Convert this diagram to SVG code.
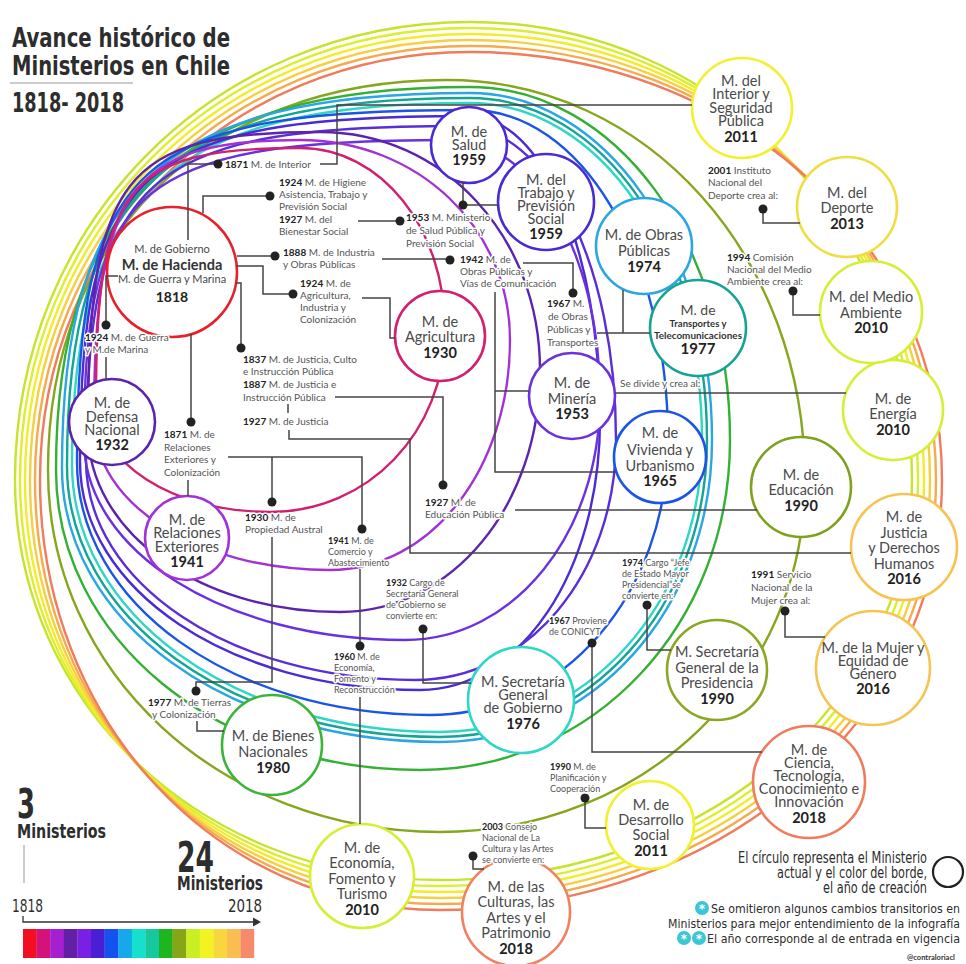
<svg xmlns="http://www.w3.org/2000/svg" width="966" height="964" viewBox="0 0 966 964">
<style>
.loop{fill:none;stroke-width:2.4}
.node{fill:#fff;stroke-width:2.6}
.conn{fill:none;stroke:#444;stroke-width:1.5}
.dot{fill:#222}
.nt{font-family:Lato,"Noto Sans",sans-serif;font-size:14.5px;fill:#4a4a4a;text-anchor:middle}
.yr{font-weight:bold;fill:#222}
.lb{font-family:Lato,"Noto Sans",sans-serif;font-size:10px;fill:#555;paint-order:stroke;stroke:#fff;stroke-width:3px;stroke-linejoin:round}
.sm{font-size:9px}
.b{font-weight:bold;fill:#222}
.cd{font-family:"DejaVu Sans Condensed","DejaVu Sans",sans-serif;fill:#2d2d2d}
</style>
<rect width="966" height="964" fill="#fff"/>

<g id="loops">
<path class="loop" stroke="#c6e42c" d="M15,480 C15,223.5 215.2,22 470,22 C717.5,22 912,223.5 912,480 C912,704 704.3,880 440,880 C202,880 15,704 15,480Z"/>
<path class="loop" stroke="#dcee2e" d="M20,480 C20,226.9 218,28 470,28 C720.9,28 918,226.9 918,480 C918,707.4 707.7,886 440,886 C204.8,886 20,707.4 20,480Z"/>
<path class="loop" stroke="#f2ec2a" d="M25,480 C25,230.2 220.8,34 470,34 C724.2,34 924,230.2 924,480 C924,710.7 711,892 440,892 C207.6,892 25,710.7 25,480Z"/>
<path class="loop" stroke="#f6d040" d="M30,480 C30,233.6 223.6,40 470,40 C727.6,40 930,233.6 930,480 C930,714.1 714.4,898 440,898 C210.4,898 30,714.1 30,480Z"/>
<path class="loop" stroke="#f6aa4e" d="M35,480 C35,237 226.4,46 470,46 C731,46 936,237 936,480 C936,717.4 717.8,904 440,904 C213.2,904 35,717.4 35,480Z"/>
<path class="loop" stroke="#f07c5c" d="M40,480 C40,240.3 229.2,52 470,52 C734.3,52 942,240.3 942,480 C942,720.8 721.1,910 440,910 C216,910 40,720.8 40,480Z"/>
<path class="loop" stroke="#86a61e" d="M48,470 C48,236 207.6,80 447,80 C647.5,80 805,256 805,480 C805,677.1 644.4,832 440,832 C220.5,832 48,672.7 48,470Z"/>
<path class="loop" stroke="#34b034" d="M56,470 C56,201.9 180.2,87 470,87 C615.6,87 730,242.3 730,440 C730,624.8 593.6,770 420,770 C216.2,770 56,638 56,470Z"/>
<path class="loop" stroke="#2aa6e2" d="M62,468 C62,186.75 164,93 470,93 C605.5,93 712,245.7 712,440 C712,609.1 592.3,742 440,742 C228.3,742 62,621.4 62,468Z"/>
<path class="loop" stroke="#13a595" d="M67,466 C67,190 167.75,98 470,98 C602.7,98 707,248.5 707,440 C707,606.3 589.5,737 440,737 C231.1,737 67,617.8 67,466Z"/>
<path class="loop" stroke="#2fd6c4" d="M72,464 C72,193.25 171.5,103 470,103 C599.9,103 702,251.3 702,440 C702,603.5 586.7,732 440,732 C233.9,732 72,614.1 72,464Z"/>
<path class="loop" stroke="#1b55e6" d="M77,462 C77,162.8 136,110 470,110 C580.9,110 668,255.2 668,440 C668,594 563.3,715 430,715 C232.3,715 77,603.7 77,462Z"/>
<path class="loop" stroke="#4b2bd3" d="M80,462 C80,167.9 138.3,116 469,116 C542.4,116 600,249.8 600,420 C600,571.2 520.8,690 420,690 C229.6,690 80,589.7 80,462Z"/>
<path class="loop" stroke="#5a2ed6" d="M86,460 C86,176.1 142.1,126 460,126 C547.4,126 616,264.2 616,440 C616,574.4 527.6,680 415,680 C230.8,680 86,583.2 86,460Z"/>
<path class="loop" stroke="#6b30e0" d="M84,440 C84,185 139,140 450,140 C534,140 600,253.5 600,398 C600,533.5 514.2,640 405,640 C225.2,640 84,552 84,440Z"/>
<path class="loop" stroke="#5c24ac" d="M88,430 C88,176.7 122.8,132 320,132 C443.2,132 540,236.7 540,370 C540,505.5 452,612 340,612 C198.9,612 88,531.9 88,430Z"/>
<path class="loop" stroke="#a232d6" d="M94,420 C94,190.4 131.1,140 300,140 C417.6,140 510,228 510,340 C510,468.8 430.8,570 330,570 C197.8,570 94,504 94,420Z"/>
<path class="loop" stroke="#d0206e" d="M96,400 C96,185.8 126.6,148 300,148 C381.2,148 445,228.1 445,330 C445,431.9 368,512 270,512 C172.6,512 96,462.7 96,400Z"/>
</g>

<g id="n-hacienda"><circle class="node" cx="172" cy="272" r="65" stroke="#e8202a"/>
<text class="nt"><tspan x="172" y="253" font-size="11">M. de Gobierno</tspan><tspan x="172" y="270" font-weight="bold" fill="#333">M. de Hacienda</tspan><tspan x="172" y="283" font-size="11">M. de Guerra y Marina</tspan><tspan x="172" y="302" class="yr" font-size="14">1818</tspan></text></g>
<g id="n-salud"><circle class="node" cx="469" cy="145" r="38" stroke="#4a2ad2"/>
<text class="nt" font-size="14"><tspan x="469" y="137">M. de</tspan><tspan x="469" y="150">Salud</tspan><tspan x="469" y="165" class="yr">1959</tspan></text></g>
<g id="n-trabajo"><circle class="node" cx="546" cy="202" r="48" stroke="#4a2ad2"/>
<text class="nt" font-size="14"><tspan x="546" y="185">M. del</tspan><tspan x="546" y="198">Trabajo y</tspan><tspan x="546" y="211">Previsión</tspan><tspan x="546" y="224">Social</tspan><tspan x="546" y="239" class="yr">1959</tspan></text></g>
<g id="n-obras"><circle class="node" cx="644" cy="246" r="48" stroke="#2aa6e2"/>
<text class="nt"><tspan x="644" y="240">M. de Obras</tspan><tspan x="644" y="256">Públicas</tspan><tspan x="644" y="272" class="yr">1974</tspan></text></g>
<g id="n-transportes"><circle class="node" cx="698" cy="328" r="48" stroke="#14a394"/>
<text class="nt"><tspan x="698" y="315" font-size="14">M. de</tspan><tspan x="698" y="327" font-size="9.5" font-weight="bold" fill="#333">Transportes y</tspan><tspan x="698" y="339" font-size="9.5" font-weight="bold" fill="#333" textLength="88" lengthAdjust="spacingAndGlyphs">Telecomunicaciones</tspan><tspan x="698" y="354" class="yr" font-size="15">1977</tspan></text></g>
<g id="n-agricultura"><circle class="node" cx="440" cy="336" r="45" stroke="#d0206e"/>
<text class="nt" font-size="15"><tspan x="440" y="327">M. de</tspan><tspan x="440" y="342">Agricultura</tspan><tspan x="440" y="358" class="yr">1930</tspan></text></g>
<g id="n-mineria"><circle class="node" cx="572" cy="396" r="43" stroke="#6b30e0"/>
<text class="nt" font-size="15"><tspan x="572" y="388">M. de</tspan><tspan x="572" y="404">Minería</tspan><tspan x="572" y="419" class="yr">1953</tspan></text></g>
<g id="n-vivienda"><circle class="node" cx="660" cy="457" r="46" stroke="#1b55e6"/>
<text class="nt"><tspan x="660" y="438">M. de</tspan><tspan x="660" y="455">Vivienda y</tspan><tspan x="660" y="471">Urbanismo</tspan><tspan x="660" y="486" class="yr">1965</tspan></text></g>
<g id="n-defensa"><circle class="node" cx="112" cy="422" r="43" stroke="#5c24ac"/>
<text class="nt"><tspan x="112" y="408">M. de</tspan><tspan x="112" y="422">Defensa</tspan><tspan x="112" y="435">Nacional</tspan><tspan x="112" y="450" class="yr">1932</tspan></text></g>
<g id="n-relext"><circle class="node" cx="187" cy="538" r="42" stroke="#a232d6"/>
<text class="nt"><tspan x="187" y="525">M. de</tspan><tspan x="187" y="538">Relaciones</tspan><tspan x="187" y="552">Exteriores</tspan><tspan x="187" y="567" class="yr">1941</tspan></text></g>
<g id="n-educacion"><circle class="node" cx="801" cy="487" r="50" stroke="#7ea21e"/>
<text class="nt"><tspan x="801" y="480">M. de</tspan><tspan x="801" y="495">Educación</tspan><tspan x="801" y="511" class="yr">1990</tspan></text></g>
<g id="n-energia"><circle class="node" cx="893" cy="410" r="50" stroke="#d6ee34"/>
<text class="nt"><tspan x="893" y="404">M. de</tspan><tspan x="893" y="419">Energía</tspan><tspan x="893" y="435" class="yr">2010</tspan></text></g>
<g id="n-justicia"><circle class="node" cx="904" cy="547" r="53" stroke="#f6c454"/>
<text class="nt"><tspan x="904" y="522">M. de</tspan><tspan x="904" y="538">Justicia</tspan><tspan x="904" y="553">y Derechos</tspan><tspan x="904" y="569">Humanos</tspan><tspan x="904" y="584" class="yr">2016</tspan></text></g>
<g id="n-mujer"><circle class="node" cx="873" cy="668" r="57" stroke="#f6c454"/>
<text class="nt"><tspan x="873" y="653">M. de la Mujer y</tspan><tspan x="873" y="666">Equidad de</tspan><tspan x="873" y="679">Género</tspan><tspan x="873" y="694" class="yr">2016</tspan></text></g>
<g id="n-presidencia"><circle class="node" cx="717" cy="670" r="50" stroke="#8aa824"/>
<text class="nt" font-size="15"><tspan x="717" y="657">M. Secretaría</tspan><tspan x="717" y="673">General de la</tspan><tspan x="717" y="688">Presidencia</tspan><tspan x="717" y="704" class="yr">1990</tspan></text></g>
<g id="n-secgob"><circle class="node" cx="521" cy="700" r="53" stroke="#30d6c6"/>
<text class="nt" font-size="15"><tspan x="523" y="687">M. Secretaría</tspan><tspan x="523" y="700">General</tspan><tspan x="523" y="713">de Gobierno</tspan><tspan x="523" y="729" class="yr">1976</tspan></text></g>
<g id="n-bienes"><circle class="node" cx="272" cy="745" r="50" stroke="#3cb43a"/>
<text class="nt" font-size="15"><tspan x="273" y="741">M. de Bienes</tspan><tspan x="273" y="757">Nacionales</tspan><tspan x="273" y="773" class="yr">1980</tspan></text></g>
<g id="n-economia"><circle class="node" cx="362" cy="876" r="52" stroke="#d6ee34"/>
<text class="nt"><tspan x="362" y="853">M. de</tspan><tspan x="362" y="868">Economía,</tspan><tspan x="362" y="884">Fomento y</tspan><tspan x="362" y="899">Turismo</tspan><tspan x="362" y="915" class="yr">2010</tspan></text></g>
<g id="n-culturas"><circle class="node" cx="516" cy="912" r="54" stroke="#f08262"/>
<text class="nt"><tspan x="516" y="892">M. de las</tspan><tspan x="516" y="907">Culturas, las</tspan><tspan x="516" y="923">Artes y el</tspan><tspan x="516" y="938">Patrimonio</tspan><tspan x="516" y="954" class="yr">2018</tspan></text></g>
<g id="n-desarrollo"><circle class="node" cx="650" cy="825" r="44" stroke="#f2f032"/>
<text class="nt"><tspan x="651" y="810">M. de</tspan><tspan x="651" y="825">Desarrollo</tspan><tspan x="651" y="840">Social</tspan><tspan x="651" y="856" class="yr">2011</tspan></text></g>
<g id="n-ciencia"><circle class="node" cx="809" cy="782" r="56" stroke="#f07c5e"/>
<text class="nt" font-size="13"><tspan x="809" y="755">M. de</tspan><tspan x="809" y="768">Ciencia,</tspan><tspan x="809" y="781">Tecnología,</tspan><tspan x="809" y="794">Conocimiento e</tspan><tspan x="809" y="807">Innovación</tspan><tspan x="809" y="823" class="yr">2018</tspan></text></g>
<g id="n-medioambiente"><circle class="node" cx="871" cy="312" r="51" stroke="#d6ee34"/>
<text class="nt"><tspan x="871" y="302">M. del Medio</tspan><tspan x="871" y="318">Ambiente</tspan><tspan x="871" y="333" class="yr">2010</tspan></text></g>
<g id="n-deporte"><circle class="node" cx="847" cy="207" r="50" stroke="#f0de40"/>
<text class="nt"><tspan x="847" y="198">M. del</tspan><tspan x="847" y="213">Deporte</tspan><tspan x="847" y="229" class="yr">2013</tspan></text></g>
<g id="n-interior"><circle class="node" cx="742" cy="108" r="50" stroke="#f2f032"/>
<text class="nt" font-size="14"><tspan x="741" y="86">M. del</tspan><tspan x="741" y="99">Interior y</tspan><tspan x="741" y="113">Seguridad</tspan><tspan x="741" y="126">Pública</tspan><tspan x="741" y="142" class="yr">2011</tspan></text></g>

<g id="connectors">
<path class="conn" d="M188,240 V164 H214 M320,164 H337 V105 H692"/>
<path class="conn" d="M203,213 V196 H266"/>
<path class="conn" d="M358,221 H396"/>
<path class="conn" d="M463,182 V205 H498"/>
<path class="conn" d="M237,256 H271"/>
<path class="conn" d="M382,259 H446"/>
<path class="conn" d="M523,263 H573 V289"/>
<path class="conn" d="M597,333 H650 M623,333 V290"/>
<path class="conn" d="M495,292 V472 H616 M495,391 H529"/>
<path class="conn" d="M615,393 H846"/>
<path class="conn" d="M236,266 H263 V294 H289"/>
<path class="conn" d="M362,298 H390 V338 H395"/>
<path class="conn" d="M236,283 H241 V344"/>
<path class="conn" d="M335,397 H443 V481"/>
<path class="conn" d="M515,510 H757"/>
<path class="conn" d="M289,430 V439 H410 V553 H851"/>
<path class="conn" d="M288,404 V413"/>
<path class="conn" d="M118,276 H106 V321 M106,357 V380"/>
<path class="conn" d="M191,334 V418"/>
<path class="conn" d="M188,480 V496"/>
<path class="conn" d="M228,457 H362 V525 M272,457 V498"/>
<path class="conn" d="M272,537 V682 H196 V687"/>
<path class="conn" d="M197,721 V731 H224"/>
<path class="conn" d="M360,569 V642 M360,697 V824"/>
<path class="conn" d="M423,633 V683 H471"/>
<path class="conn" d="M647,609 V650 H671"/>
<path class="conn" d="M592,647 V752 H762"/>
<path class="conn" d="M585,802 V828 H606"/>
<path class="conn" d="M473,860 V869 H484"/>
<path class="conn" d="M763,213 V223 H800"/>
<path class="conn" d="M793,295 V315 H820"/>
<path class="conn" d="M785,615 V637 H825"/>
<g class="dot">
<circle cx="218" cy="164" r="4.5"/><circle cx="270" cy="196" r="4.5"/><circle cx="400" cy="221" r="4.5"/><circle cx="463" cy="205" r="4.5"/>
<circle cx="275" cy="256" r="4.5"/><circle cx="450" cy="260" r="4.5"/><circle cx="573" cy="293" r="4.5"/><circle cx="293" cy="294" r="4.5"/>
<circle cx="241" cy="348" r="4.5"/><circle cx="443" cy="485" r="4.5"/><circle cx="106" cy="325" r="4.5"/><circle cx="191" cy="422" r="4.5"/>
<circle cx="272" cy="502" r="4.5"/><circle cx="362" cy="529" r="4.5"/><circle cx="196" cy="691" r="4.5"/><circle cx="360" cy="646" r="4.5"/>
<circle cx="423" cy="629" r="4.5"/><circle cx="647" cy="605" r="4.5"/><circle cx="592" cy="643" r="4.5"/><circle cx="585" cy="798" r="4.5"/>
<circle cx="473" cy="856" r="4.5"/><circle cx="763" cy="209" r="4.5"/><circle cx="793" cy="291" r="4.5"/><circle cx="785" cy="611" r="4.5"/>
</g>
</g>

<g id="labels">
<text class="lb" x="225" y="168"><tspan class="b">1871</tspan> M. de Interior</text>
<text class="lb"><tspan x="279" y="186"><tspan class="b">1924</tspan> M. de Higiene</tspan><tspan x="279" y="198">Asistencia, Trabajo y</tspan><tspan x="279" y="210">Previsión Social</tspan><tspan x="279" y="223"><tspan class="b">1927</tspan> M. del</tspan><tspan x="279" y="235">Bienestar Social</tspan></text>
<text class="lb"><tspan x="406" y="221"><tspan class="b">1953</tspan> M. Ministerio</tspan><tspan x="406" y="234">de Salud Pública y</tspan><tspan x="406" y="247">Previsión Social</tspan></text>
<text class="lb"><tspan x="283" y="256"><tspan class="b">1888</tspan> M. de Industria</tspan><tspan x="283" y="268">y Obras Públicas</tspan></text>
<text class="lb"><tspan x="460" y="263"><tspan class="b">1942</tspan> M. de</tspan><tspan x="460" y="275">Obras Públicas y</tspan><tspan x="460" y="287">Vías de Comunicación</tspan></text>
<text class="lb"><tspan x="547" y="307"><tspan class="b">1967</tspan> M.</tspan><tspan x="548" y="320">de Obras</tspan><tspan x="547" y="333">Públicas y</tspan><tspan x="547" y="346">Transportes</tspan></text>
<text class="lb"><tspan x="300" y="287"><tspan class="b">1924</tspan>  M. de</tspan><tspan x="300" y="299">Agricultura,</tspan><tspan x="300" y="311">Industria  y</tspan><tspan x="300" y="323">Colonización</tspan></text>
<text class="lb"><tspan x="243" y="363"><tspan class="b">1837</tspan> M. de Justicia, Culto</tspan><tspan x="243" y="375">e Instrucción Pública</tspan><tspan x="243" y="388"><tspan class="b">1887</tspan> M. de Justicia e</tspan><tspan x="243" y="401">Instrucción Pública</tspan><tspan x="243" y="425"><tspan class="b">1927</tspan> M. de Justicia</tspan></text>
<text class="lb"><tspan x="85" y="341"><tspan class="b">1924</tspan> M. de Guerra</tspan><tspan x="85" y="353">y M.de Marina</tspan></text>
<text class="lb"><tspan x="164" y="438"><tspan class="b">1871</tspan> M. de</tspan><tspan x="164" y="451">Relaciones</tspan><tspan x="164" y="463">Exteriores y</tspan><tspan x="164" y="476">Colonización</tspan></text>
<text class="lb"><tspan x="245" y="521"><tspan class="b">1930</tspan> M. de</tspan><tspan x="245" y="533">Propiedad Austral</tspan></text>
<text class="lb sm"><tspan x="328" y="544"><tspan class="b">1941</tspan>  M. de</tspan><tspan x="328" y="555">Comercio y</tspan><tspan x="328" y="566">Abastecimiento</tspan></text>
<text class="lb sm"><tspan x="334" y="660"><tspan class="b">1960</tspan>  M. de</tspan><tspan x="334" y="671">Economía,</tspan><tspan x="334" y="682">Fomento y</tspan><tspan x="334" y="693">Reconstrucción</tspan></text>
<text class="lb sm"><tspan x="386" y="586"><tspan class="b">1932</tspan> Cargo de</tspan><tspan x="386" y="597">Secretaría General</tspan><tspan x="386" y="608">de Gobierno se</tspan><tspan x="386" y="619">convierte en:</tspan></text>
<text class="lb sm"><tspan x="622" y="566"><tspan class="b">1974</tspan> Cargo “Jefe</tspan><tspan x="622" y="577">de Estado Mayor</tspan><tspan x="622" y="588">Presidencial”se</tspan><tspan x="622" y="599">convierte en:</tspan></text>
<text class="lb sm"><tspan x="549" y="624"><tspan class="b">1967</tspan> Proviene</tspan><tspan x="549" y="635">de CONICYT</tspan></text>
<text class="lb sm"><tspan x="550" y="770"><tspan class="b">1990</tspan> M. de</tspan><tspan x="550" y="781">Planificación y</tspan><tspan x="550" y="792">Cooperación</tspan></text>
<text class="lb sm"><tspan x="482" y="830"><tspan class="b">2003</tspan> Consejo</tspan><tspan x="482" y="841">Nacional de La</tspan><tspan x="482" y="852">Cultura y las Artes</tspan><tspan x="482" y="863">se convierte en:</tspan></text>
<text class="lb"><tspan x="708" y="174"><tspan class="b">2001</tspan> Instituto</tspan><tspan x="708" y="186">Nacional del</tspan><tspan x="708" y="199">Deporte crea al:</tspan></text>
<text class="lb"><tspan x="727" y="261"><tspan class="b">1994</tspan> Comisión</tspan><tspan x="727" y="273">Nacional del Medio</tspan><tspan x="727" y="285">Ambiente crea al:</tspan></text>
<text class="lb"><tspan x="751" y="578"><tspan class="b">1991</tspan> Servicio</tspan><tspan x="751" y="591">Nacional de la</tspan><tspan x="751" y="604">Mujer crea al:</tspan></text>
<text class="lb" x="620" y="387">Se divide y crea al:</text>
<text class="lb"><tspan x="425" y="506"><tspan class="b">1927</tspan> M. de</tspan><tspan x="425" y="518">Educación Pública</tspan></text>
<text class="lb"><tspan x="148" y="706"><tspan class="b">1977</tspan> M. de Tierras</tspan><tspan x="152" y="718">y Colonización</tspan></text>
</g>

<g id="title">
<text class="cd" x="12" y="47" font-size="27" font-weight="bold" textLength="218" lengthAdjust="spacingAndGlyphs">Avance histórico de</text>
<text class="cd" x="12" y="75" font-size="27" font-weight="bold" textLength="218" lengthAdjust="spacingAndGlyphs">Ministerios en Chile</text>
<line x1="10" y1="83" x2="133" y2="83" stroke="#bbb" stroke-width="1.5"/>
<text class="cd" x="12" y="112" font-size="27" font-weight="bold" textLength="112" lengthAdjust="spacingAndGlyphs">1818- 2018</text>
</g>

<g id="timeline">
<text class="cd" x="17" y="818" font-size="40" font-weight="bold" textLength="18" lengthAdjust="spacingAndGlyphs">3</text>
<text class="cd" x="17" y="838" font-size="20" font-weight="bold" textLength="89" lengthAdjust="spacingAndGlyphs">Ministerios</text>
<line x1="24" y1="845" x2="24" y2="883" stroke="#999" stroke-width="1"/>
<text class="cd" x="12" y="912" font-size="18" textLength="31" lengthAdjust="spacingAndGlyphs">1818</text>
<text class="cd" x="177" y="872" font-size="42" font-weight="bold" textLength="37" lengthAdjust="spacingAndGlyphs">24</text>
<text class="cd" x="177" y="890" font-size="20" font-weight="bold" textLength="86" lengthAdjust="spacingAndGlyphs">Ministerios</text>
<text class="cd" x="228" y="912" font-size="18" textLength="34" lengthAdjust="spacingAndGlyphs">2018</text>
<path d="M23,916 V922 H254" fill="none" stroke="#333" stroke-width="1.3"/>
<polygon points="253,917.5 261,922 253,926.5" fill="#333"/>
<g>
<rect x="23" y="929" width="13.8" height="29" fill="#f20f22"/>
<rect x="36.6" y="929" width="13.8" height="29" fill="#d4127c"/>
<rect x="50.2" y="929" width="13.8" height="29" fill="#a620d2"/>
<rect x="63.8" y="929" width="13.8" height="29" fill="#6420a4"/>
<rect x="77.4" y="929" width="13.8" height="29" fill="#7a1fe4"/>
<rect x="91" y="929" width="13.8" height="29" fill="#4a1fd4"/>
<rect x="104.6" y="929" width="13.8" height="29" fill="#1352ee"/>
<rect x="118.2" y="929" width="13.8" height="29" fill="#16a8ea"/>
<rect x="131.8" y="929" width="13.8" height="29" fill="#14e0cc"/>
<rect x="145.4" y="929" width="13.8" height="29" fill="#17c79f"/>
<rect x="159" y="929" width="13.8" height="29" fill="#1fb51f"/>
<rect x="172.6" y="929" width="13.8" height="29" fill="#86a616"/>
<rect x="186.2" y="929" width="13.8" height="29" fill="#c9ee22"/>
<rect x="199.8" y="929" width="13.8" height="29" fill="#f3f321"/>
<rect x="213.4" y="929" width="13.8" height="29" fill="#f8d63e"/>
<rect x="227" y="929" width="13.8" height="29" fill="#f9bd52"/>
<rect x="240.6" y="929" width="13.6" height="29" fill="#f78a6a"/>
</g>
</g>

<g id="legend">
<text class="cd" x="927" y="863" font-size="15" text-anchor="end" textLength="189" lengthAdjust="spacingAndGlyphs">El círculo representa el Ministerio</text>
<text class="cd" x="927" y="878" font-size="15" text-anchor="end" textLength="150" lengthAdjust="spacingAndGlyphs">actual y el color del borde,</text>
<text class="cd" x="927" y="893" font-size="15" text-anchor="end" textLength="104" lengthAdjust="spacingAndGlyphs">el año de creación</text>
<circle cx="948" cy="872" r="15" fill="none" stroke="#222" stroke-width="2.2"/>
<circle cx="702" cy="908" r="7" fill="#3cc6d6"/>
<text x="702" y="913" font-family="DejaVu Sans,sans-serif" font-size="12" font-weight="bold" fill="#fff" text-anchor="middle">*</text>
<text class="cd" x="711" y="913" font-size="12.3" textLength="249" lengthAdjust="spacingAndGlyphs">Se omitieron algunos cambios transitorios en</text>
<text class="cd" x="668" y="928" font-size="12.3" textLength="292" lengthAdjust="spacingAndGlyphs">Ministerios para mejor entendimiento de la infografía</text>
<circle cx="684" cy="938" r="7" fill="#3cc6d6"/>
<circle cx="699" cy="938" r="7" fill="#3cc6d6"/>
<text x="684" y="943" font-family="DejaVu Sans,sans-serif" font-size="12" font-weight="bold" fill="#fff" text-anchor="middle">*</text>
<text x="699" y="943" font-family="DejaVu Sans,sans-serif" font-size="12" font-weight="bold" fill="#fff" text-anchor="middle">*</text>
<text class="cd" x="707" y="943" font-size="12.3" textLength="253" lengthAdjust="spacingAndGlyphs">El año corresponde al de entrada en vigencia</text>
<text x="907" y="960" font-family="Lato,sans-serif" font-size="7.5" font-weight="bold" fill="#333">@contraloriacl</text>
</g>
</svg>
